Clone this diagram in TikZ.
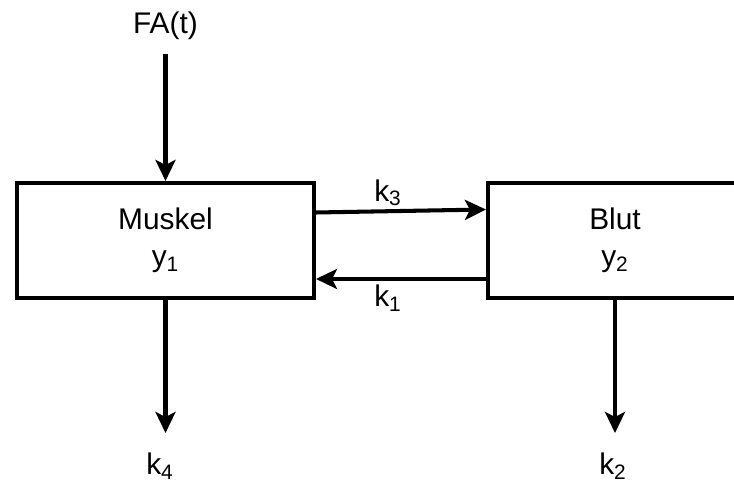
\documentclass[tikz,border=0pt]{standalone}
\usepackage{fontspec}
\setmainfont{Liberation Sans}
\usepackage{tikz}
\usetikzlibrary{arrows.meta,positioning}

\begin{document}
\begin{tikzpicture}[
  font=\fontsize{17}{21}\selectfont,
  compbox/.style={draw, line width=2.3pt, align=center,
              minimum height=2.30cm, inner sep=0pt},
  arr/.style={-{Stealth[length=4.2mm, width=4mm, inset=1mm]}, line width=2.3pt},
  lbl/.style={inner sep=1pt}
]
\useasboundingbox (0,0) rectangle (14.68,-9.68);

\node[lbl] (fa) at (3.31,-0.52) {FA(t)};
\node[compbox, minimum width=5.94cm] (muskel) at (3.31,-4.81) {Muskel\\y\textsubscript{1}};
\node[compbox, minimum width=5.08cm] (blut) at (12.30,-4.81) {Blut\\y\textsubscript{2}};

\coordinate (out4) at (3.31,-8.66);
\coordinate (out2) at (12.30,-8.66);

\draw[arr, shorten <=7pt] (fa) -- (muskel);
\draw[arr] ([yshift=0.56cm]muskel.east) -- ([yshift=0.62cm]blut.west);
\draw[arr] ([yshift=-0.77cm]blut.west) -- ([yshift=-0.77cm]muskel.east);
\draw[arr] (muskel) -- (out4);
\draw[arr] (blut) -- (out2);

\node[lbl] (k3) at (7.76,-3.86) {k\textsubscript{3}};
\node[lbl] (k1) at (7.76,-5.96) {k\textsubscript{1}};
\node[lbl] (k4) at (3.20,-9.32) {k\textsubscript{4}};
\node[lbl] (k2) at (12.26,-9.32) {k\textsubscript{2}};
\end{tikzpicture}
\end{document}
